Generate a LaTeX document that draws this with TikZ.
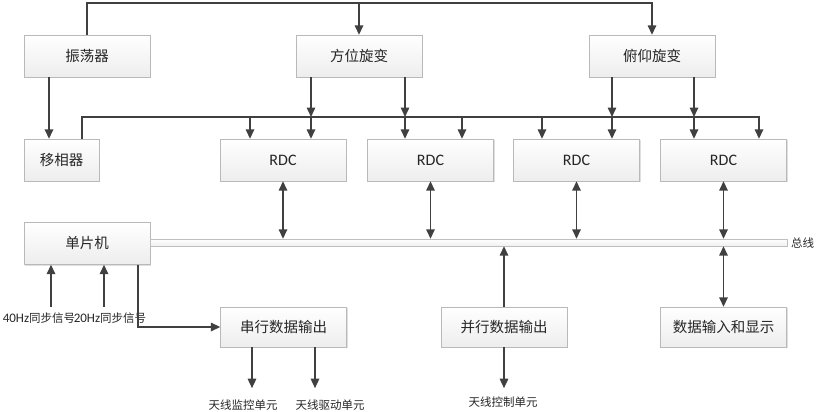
\documentclass[tikz,border=0pt]{standalone}
\usepackage{fontspec}
\setmainfont{Carlito}
\newfontfamily\cjk{Noto Sans CJK SC}
\usetikzlibrary{arrows.meta, shadows}

\begin{document}
\begin{tikzpicture}[x=1pt, y=-1pt,
    box/.style={draw=gray!55, top color=white, bottom color=gray!14,
        drop shadow={shadow xshift=1.2pt, shadow yshift=-1.2pt, opacity=0.25},
        minimum width=126, minimum height=42, inner sep=0pt,
        font=\fontsize{14.5}{16}\selectfont\cjk, text=black!85},
    rdcbox/.style={box, font=\fontsize{16}{18}\selectfont},
    busbar/.style={draw=gray!50, top color=white, bottom color=gray!12,
        minimum height=7, inner sep=0pt},
    lbl/.style={font=\fontsize{11.5}{13}\selectfont\cjk, text=black!85, inner sep=1pt},
    line/.style={draw=black!75, line width=1.5pt},
    arr/.style={line, -{Triangle[length=9.5pt,width=8.5pt]}},
    darr/.style={line, {Triangle[length=9.5pt,width=8.5pt]}-{Triangle[length=9.5pt,width=8.5pt]}}]

    \useasboundingbox (0,0) rectangle (816,412);

    % oscillator and resolvers
    \node[box] (osc) at (87,56) {振荡器};
    \node[box] (azi) at (359,56) {方位旋变};
    \node[box] (ele) at (652,56) {俯仰旋变};

    % phase shifter and converters
    \node[box, minimum width=75] (phs) at (61.5,160) {移相器};
    \node[rdcbox] (rdc1) at (283,160) {RDC};
    \node[rdcbox] (rdc2) at (430.5,160) {RDC};
    \node[rdcbox] (rdc3) at (576.5,160) {RDC};
    \node[rdcbox] (rdc4) at (723.5,160) {RDC};

    % controller and bus
    \node[box] (mcu) at (87,243.5) {单片机};
    \node[busbar, minimum width=637] (bus) at (468.5,242.5) {};
    \node[lbl, anchor=west] (buslbl) at (790,243) {总线};

    % output units
    \node[box, minimum height=40] (ser) at (283.5,327) {串行数据输出};
    \node[box, minimum height=40] (par) at (504,327) {并行数据输出};
    \node[box, minimum height=40] (disp) at (723.5,327) {数据输入和显示};

    % text labels
    \node[lbl] (s40) at (39,318) {{\rmfamily\fontsize{13}{13}\selectfont 40Hz}同步信号};
    \node[lbl] (s20) at (110,318) {{\rmfamily\fontsize{13}{13}\selectfont 20Hz}同步信号};
    \node[lbl] (mon) at (243,405) {天线监控单元};
    \node[lbl] (drv) at (330,405) {天线驱动单元};
    \node[lbl] (ctl) at (503,402) {天线控制单元};

    % excitation from the oscillator
    \coordinate (top) at (87,3);
    \draw[arr] (osc.north) -- (top) -| (ele.north);
    \draw[arr] (azi.north |- top) -- (azi.north);
    \draw[arr] ([xshift=-38]osc.south) -- ([xshift=-38]osc.south |- phs.north);

    % reference line from the phase shifter
    \coordinate (ph) at (82,117);
    \draw[arr] (phs.north -| ph) -- (ph) -| ([xshift=35.5]rdc4.north);
    \foreach \n/\dx in {1/-33, 2/31.5, 3/-34.5} {
        \path ([xshift=\dx]rdc\n.north) coordinate (t);
        \draw[arr] (t |- ph) -- (t);
    }

    % resolver outputs
    \foreach \src/\sdx/\dst/\ddx in {azi/-48/rdc1/28, azi/46/rdc2/-25.5,
                                     ele/-40/rdc3/35.5, ele/42/rdc4/-29.5} {
        \path ([xshift=\sdx]\src.south) coordinate (s);
        \draw[arr] (s) -- (s |- ph);
        \draw[arr] (s |- ph) -- (s |- \dst.north);
    }

    % converters to bus
    \foreach \n in {1,...,4}
        \draw[darr] (rdc\n.south) -- (rdc\n.south |- bus.north);
    \draw[arr] (par.north) -- (par.north |- bus.south);
    \draw[darr] (disp.north) -- (disp.north |- bus.south);

    % synchronisation inputs
    \coordinate (i40) at (51,307);
    \coordinate (i20) at (104,307);
    \draw[arr] (i40) -- (i40 |- mcu.south);
    \draw[arr] (i20) -- (i20 |- mcu.south);
    \draw[arr] ([xshift=51]mcu.south) |- (ser.west);

    % antenna units
    \draw[arr] ([xshift=-31.5]ser.south) -- ++(0,41);
    \draw[arr] ([xshift=31.5]ser.south) -- ++(0,41);
    \draw[arr] (par.south) -- ++(0,41);
\end{tikzpicture}
\end{document}
